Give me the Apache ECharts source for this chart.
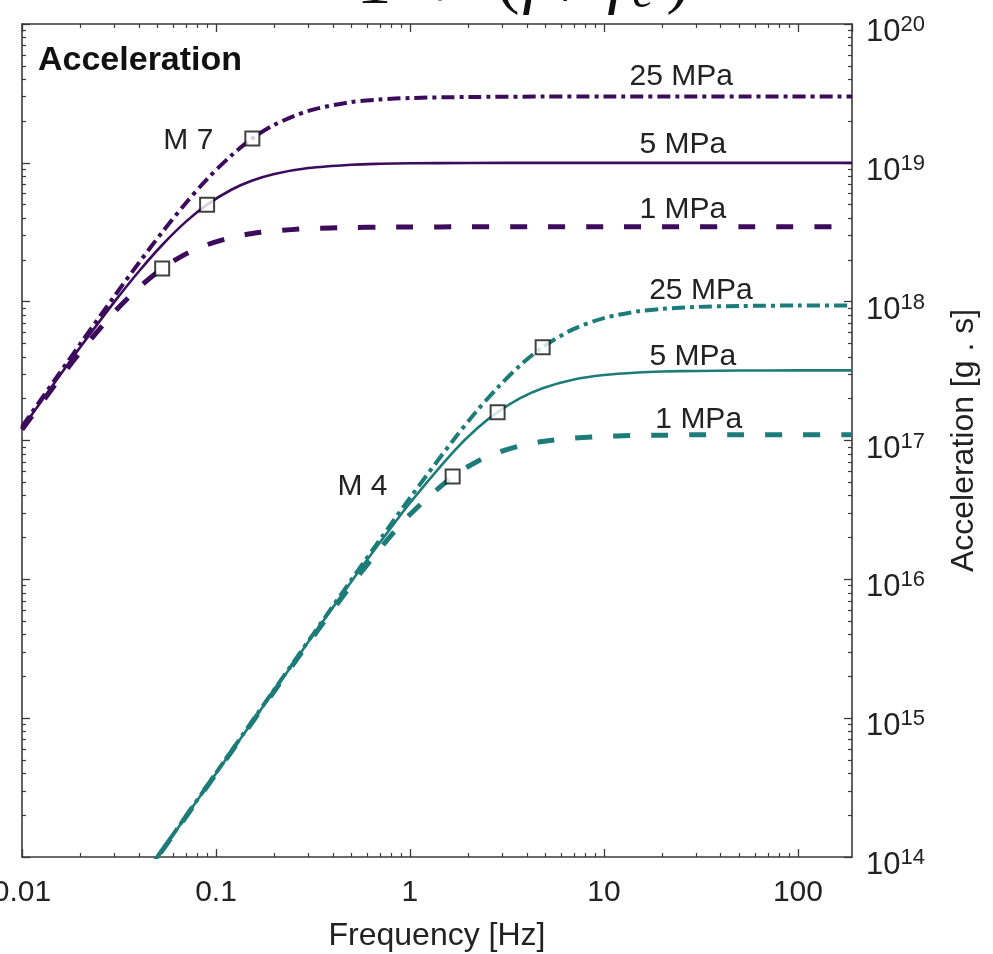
<!DOCTYPE html>
<html>
<head>
<meta charset="utf-8">
<script src="https://cdn.jsdelivr.net/npm/echarts@6/dist/echarts.min.js"></script>
<style>
  html, body { margin: 0; padding: 0; background: #ffffff; }
  #chart { width: 993px; height: 954px; }
</style>
</head>
<body>
<div id="chart"></div>
<script>
// ---- Source spectra of acceleration, M 7 and M 4, three stress drops ----

// Frequency samples [Hz]
const freqM7 = [0.01, 0.015, 0.02, 0.03, 0.04, 0.0528, 0.07, 0.09, 0.12, 0.154, 0.2, 0.3, 0.5, 0.7, 1, 2, 5, 10, 190];
const freqM4 = [0.04, 0.07, 0.1, 0.2, 0.3, 0.5, 0.7, 1, 1.66, 2.2, 2.83, 3.7, 4.83, 7, 10, 15, 20, 30, 50, 100, 190];

// Acceleration [g . s]
const accM7_25 = [1.26e17, 2.82e17, 4.98e17, 1.10e18, 1.90e18, 3.16e18, 5.14e18, 7.64e18, 1.13e19, 1.50e19, 1.88e19, 2.37e19, 2.74e19, 2.86e19, 2.93e19, 2.98e19, 3.0e19, 3.0e19, 3.0e19];
const accM7_5  = [1.22e17, 2.70e17, 4.71e17, 1.00e18, 1.65e18, 2.56e18, 3.77e18, 5.00e18, 6.40e18, 7.45e18, 8.32e18, 9.17e18, 9.69e18, 9.84e18, 9.92e18, 9.98e18, 1.0e19, 1.0e19, 1.0e19];
const accM7_1  = [1.20e17, 2.58e17, 4.34e17, 8.44e17, 1.26e18, 1.73e18, 2.21e18, 2.57e18, 2.90e18, 3.10e18, 3.23e18, 3.36e18, 3.42e18, 3.44e18, 3.45e18, 3.46e18, 3.46e18, 3.46e18, 3.46e18];

const accM4_25 = [6.45e13, 1.97e14, 4.03e14, 1.61e15, 3.61e15, 9.97e15, 1.93e16, 3.86e16, 9.93e16, 1.62e17, 2.40e17, 3.48e17, 4.70e17, 6.37e17, 7.62e17, 8.52e17, 8.88e17, 9.16e17, 9.31e17, 9.38e17, 9.40e17];
const accM4_5  = [6.40e13, 1.96e14, 3.99e14, 1.59e15, 3.56e15, 9.69e15, 1.84e16, 3.55e16, 8.19e16, 1.21e17, 1.60e17, 2.02e17, 2.38e17, 2.75e17, 2.96e17, 3.09e17, 3.14e17, 3.17e17, 3.19e17, 3.20e17, 3.20e17];
const accM4_1  = [6.40e13, 1.95e14, 3.98e14, 1.57e15, 3.48e15, 9.15e15, 1.66e16, 2.93e16, 5.50e16, 7.01e16, 8.18e16, 9.16e16, 9.84e16, 1.04e17, 1.07e17, 1.09e17, 1.09e17, 1.10e17, 1.10e17, 1.10e17, 1.10e17];

// Corner frequencies [Hz, g . s]
const cornerM7 = [[0.154, 1.50e19], [0.09, 5.0e18], [0.0528, 1.73e18]];
const cornerM4 = [[4.83, 4.70e17], [2.83, 1.60e17], [1.66, 5.5e16]];

// Text annotations [Hz, g . s, text]
const stressLabels = [
  [25.0, 4.2e19, '25 MPa'], [25.5, 1.35e19, '5 MPa'], [25.5, 4.6e18, '1 MPa'],
  [31.6, 1.2e18, '25 MPa'], [28.7, 4.0e17, '5 MPa'], [30.8, 1.41e17, '1 MPa']
];
const magnitudeLabels = [[0.072, 1.45e19, 'M 7'], [0.569, 4.63e16, 'M 4']];

// Axis tick labels
const xTickValues = [0.01, 0.1, 1, 10, 100];
const xTickLabels = ['0.01', '0.1', '1', '10', '100'];
const yTickExponents = [14, 15, 16, 17, 18, 19, 20];

// ---- styling ----
const X_MIN = 0.01, X_MAX = 190, Y_MIN = 1e14, Y_MAX = 1e20;
const PURPLE = '#3c0b5c';
const TEAL = '#1c7c79';
const INK = '#222222';
const FRAME = '#3a3a3a';
const FONT = '"Liberation Sans", Arial, Helvetica, sans-serif';

const styles = {
  solid:   { type: 'solid', width: 2.6 },
  dashed:  { type: [17, 21], width: 5 },
  dashdot: { type: [13, 5, 4, 5], width: 4 }
};

function zip(xs, ys) { return xs.map((x, i) => [x, ys[i]]); }

function curve(name, xs, ys, color, style) {
  return {
    name: name, type: 'line', xAxisIndex: 0, yAxisIndex: 0,
    data: zip(xs, ys), showSymbol: false, symbol: 'none',
    smooth: 0.3, clip: true,
    lineStyle: { color: color, width: styles[style].width, type: styles[style].type, cap: 'butt' },
    z: 3, silent: true
  };
}

// minor tick positions in log10 space (2..9 x 10^n)
const xMinorLog = [];
for (let e = -2; e <= 2; e++) for (let k = 2; k <= 9; k++) { const v = k * Math.pow(10, e); if (v < X_MAX) xMinorLog.push(Math.log10(v)); }
const yMinorLog = [];
for (let e = 14; e < 20; e++) for (let k = 2; k <= 9; k++) yMinorLog.push(e + Math.log10(k));

function majorX(position, withLabels) {
  return {
    type: 'log', logBase: 10, min: X_MIN, max: X_MAX, position: position, gridIndex: 0,
    axisLine: { show: true, onZero: false, lineStyle: { color: FRAME, width: 1.6 } },
    axisTick: { show: true, inside: true, length: 8, lineStyle: { color: FRAME, width: 1.3 } },
    splitLine: { show: false }, minorTick: { show: false },
    axisLabel: withLabels ? {
      show: true, interval: 0, margin: 21, color: INK, fontSize: 30, fontFamily: FONT,
      showMaxLabel: false,
      formatter: function (v) {
        for (let i = 0; i < xTickValues.length; i++) {
          if (Math.abs(Math.log10(v) - Math.log10(xTickValues[i])) < 1e-6) return xTickLabels[i];
        }
        return '';
      }
    } : { show: false },
    name: withLabels ? 'Frequency [Hz]' : '', nameLocation: 'middle', nameGap: 63,
    nameTextStyle: { color: INK, fontSize: 32, fontFamily: FONT }
  };
}
function minorX(position) {
  return {
    type: 'value', min: Math.log10(X_MIN), max: Math.log10(X_MAX), position: position, gridIndex: 0,
    axisLine: { show: false, onZero: false },
    axisTick: { show: true, inside: true, length: 4, customValues: xMinorLog, lineStyle: { color: FRAME, width: 1.2 } },
    axisLabel: { show: false }, splitLine: { show: false }
  };
}
function majorY(position, withLabels) {
  return {
    type: 'log', logBase: 10, min: Y_MIN, max: Y_MAX, position: position, gridIndex: 0,
    axisLine: { show: true, onZero: false, lineStyle: { color: FRAME, width: 1.6 } },
    axisTick: { show: true, inside: true, length: 8, lineStyle: { color: FRAME, width: 1.3 } },
    splitLine: { show: false }, minorTick: { show: false },
    axisLabel: withLabels ? {
      show: true, interval: 0, margin: 14, color: INK, fontFamily: FONT,
      padding: [14, 0, 0, 0],
      formatter: function (v) {
        const e = Math.round(Math.log10(v));
        return yTickExponents.indexOf(e) >= 0 ? '{b|10}{s|' + e + '}' : '';
      },
      rich: {
        b: { fontSize: 31, lineHeight: 34, verticalAlign: 'bottom', color: INK, fontFamily: FONT },
        s: { fontSize: 22, lineHeight: 22, verticalAlign: 'top', padding: [0, 0, 21, 0], color: INK, fontFamily: FONT }
      }
    } : { show: false },
    name: withLabels ? 'Acceleration [g . s]' : '', nameLocation: 'middle', nameRotate: 90, nameGap: 96,
    nameTextStyle: { color: INK, fontSize: 32, fontFamily: FONT }
  };
}
function minorY(position) {
  return {
    type: 'value', min: 14, max: 20, position: position, gridIndex: 0,
    axisLine: { show: false, onZero: false },
    axisTick: { show: true, inside: true, length: 4, customValues: yMinorLog, lineStyle: { color: FRAME, width: 1.2 } },
    axisLabel: { show: false }, splitLine: { show: false }
  };
}

function cornerSeries(items) {
  return {
    type: 'scatter', xAxisIndex: 0, yAxisIndex: 0, silent: true, z: 5,
    symbol: 'rect', symbolSize: 14,
    itemStyle: { color: '#ffffff', borderColor: '#111111', borderWidth: 2 },
    data: items
  };
}

// Fragment of the spectral formula above the panel
const SERIF = '"Liberation Serif", "Times New Roman", serif';
const formulaParts = [
  { t: '1', x: 374, y: -15, italic: false, size: 70 },
  { t: '+', x: 440, y: -10, italic: false, size: 70 },
  { t: '(', x: 508, y: -18, italic: false, size: 70 },
  { t: 'f', x: 532, y: -18, italic: true, size: 70 },
  { t: '/', x: 573, y: -18, italic: false, size: 70 },
  { t: 'f', x: 617, y: -18, italic: true, size: 70 },
  { t: 'c', x: 643, y: -6, italic: true, size: 48 },
  { t: ')', x: 678, y: -18, italic: false, size: 70 }
];

const chart = echarts.init(document.getElementById('chart'), null, { renderer: 'canvas' });
chart.setOption({
  animation: false,
  backgroundColor: '#ffffff',
  grid: { left: 22, right: 141, top: 24, bottom: 97, containLabel: false, outerBoundsMode: 'none' },
  xAxis: [majorX('bottom', true), majorX('top', false), minorX('bottom'), minorX('top')],
  yAxis: [majorY('right', true), majorY('left', false), minorY('right'), minorY('left')],
  series: [
    curve('M7 1 MPa', freqM7, accM7_1, PURPLE, 'dashed'),
    curve('M7 5 MPa', freqM7, accM7_5, PURPLE, 'solid'),
    curve('M7 25 MPa', freqM7, accM7_25, PURPLE, 'dashdot'),
    curve('M4 1 MPa', freqM4, accM4_1, TEAL, 'dashed'),
    curve('M4 5 MPa', freqM4, accM4_5, TEAL, 'solid'),
    curve('M4 25 MPa', freqM4, accM4_25, TEAL, 'dashdot'),
    cornerSeries(cornerM7),
    cornerSeries(cornerM4)
  ]
});

// Text annotations placed through the axes' own scales
const annotationText = stressLabels.concat(magnitudeLabels).map(function (d) {
  const p = chart.convertToPixel({ xAxisIndex: 0, yAxisIndex: 0 }, [d[0], d[1]]);
  return {
    type: 'text', x: p[0], y: p[1], z: 10, silent: true,
    style: { text: d[2], fontSize: 30, fontFamily: FONT, fill: INK, align: 'center', verticalAlign: 'middle' }
  };
});

chart.setOption({
  graphic: [
    {
      type: 'text', x: 38, y: 61, z: 10, silent: true,
      style: { text: 'Acceleration', fontSize: 34, fontWeight: 'bold', fontFamily: FONT, fill: '#111111', verticalAlign: 'middle', align: 'left' }
    }
  ].concat(annotationText).concat(formulaParts.map(p => ({
    type: 'text', x: p.x, y: p.y, z: 10, silent: true,
    style: { text: p.t, fontSize: p.size, fontStyle: p.italic ? 'italic' : 'normal', fontFamily: SERIF, fill: '#111111', align: 'center', verticalAlign: 'middle' }
  })))
});
</script>
</body>
</html>
